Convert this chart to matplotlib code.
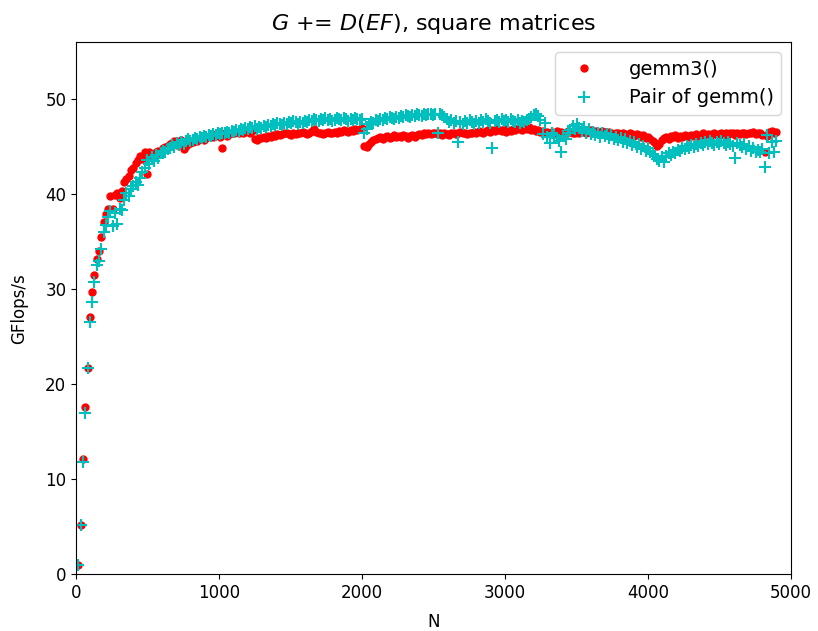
import numpy as np
import matplotlib
matplotlib.use("Agg")
import matplotlib.pyplot as plt

# matrix sizes N = 16, 32, ..., 4896
N = np.arange(16, 4897, 16)

# GFlops/s for gemm3()
gemm3 = [
    1.0, 5.2, 12.1, 17.6, 21.7, 27.1, 29.7, 31.5, 33.2, 34.0,
    35.5, 37.1, 37.9, 38.5, 39.8, 38.4, 39.9, 40.1, 39.6, 40.3,
    41.3, 41.6, 41.9, 42.6, 42.8, 43.3, 43.6, 44.0, 43.7, 44.5,
    42.1, 44.4, 44.0, 44.2, 44.5, 44.6, 44.3, 44.9, 45.0, 45.1,
    45.3, 45.4, 45.6, 45.2, 45.5, 45.7, 44.8, 45.1, 45.3, 45.4,
    45.5, 45.7, 45.6, 45.8, 46.0, 45.7, 45.9, 46.1, 46.2, 46.0,
    46.3, 46.2, 46.0, 44.9, 46.4, 46.1, 46.3, 46.5, 46.4, 46.6,
    46.5, 46.7, 46.4, 46.6, 46.8, 46.5, 46.7, 45.8, 45.7, 45.9,
    45.9, 46.0, 45.9, 46.1, 46.0, 46.2, 46.1, 46.3, 46.2, 46.3,
    46.4, 46.5, 46.3, 46.2, 46.4, 46.3, 46.5, 46.4, 46.6, 46.5,
    46.3, 46.5, 46.7, 46.9, 46.6, 46.4, 46.5, 46.3, 46.4, 46.6,
    46.5, 46.4, 46.6, 46.5, 46.7, 46.6, 46.8, 46.7, 46.6, 46.8,
    46.7, 46.9, 46.8, 46.9, 47.0, 45.1, 45.0,
    45.3, 45.5, 45.7, 45.8, 45.9, 46.0, 45.8, 46.0, 46.1, 45.9, 46.0, 46.2, 46.0,
    46.1, 46.0, 46.2, 46.1, 45.9, 46.1, 46.2, 46.0, 46.2, 46.3,
    46.2, 46.4, 46.3, 46.5, 46.3, 46.4, 46.5, 46.3, 46.4, 46.2,
    46.4, 46.3, 46.2, 46.4, 46.5, 46.3, 46.4, 46.6, 46.4, 46.5,
    46.3, 46.5, 46.4, 46.6, 46.5, 46.7, 46.6, 46.5, 46.7, 46.8,
    46.6, 46.8, 46.7, 46.9, 46.8, 46.7, 46.9, 46.6, 46.8, 46.7,
    46.9, 46.8, 47.0, 46.9, 46.8, 47.0, 46.9, 47.1, 46.8, 46.9,
    46.7, 46.8, 46.6, 46.7, 46.5, 46.6, 46.4, 46.6, 46.5, 46.7,
    46.5, 46.6, 46.4, 46.5, 46.7, 46.6, 46.4, 46.5, 46.6, 46.4,
    46.6, 46.7, 46.5, 46.6, 46.8, 46.5, 46.7, 46.6, 46.5, 46.7,
    46.6, 46.4, 46.6, 46.5, 46.3, 46.5, 46.4, 46.2, 46.4, 46.3,
    46.2, 46.4, 46.3, 46.1, 46.3, 46.2, 46.0, 46.2, 45.9, 46.0,
    45.8, 45.6, 45.4, 45.1, 45.3, 45.7, 45.9, 46.0, 45.8, 46.1,
    46.0, 46.2, 45.9, 46.1, 46.0, 46.2, 46.1, 46.0, 46.2, 46.1,
    46.3, 46.1, 46.2, 46.4, 46.2, 46.3, 46.1, 46.3, 46.4, 46.2,
    46.3, 46.5, 46.2, 46.4, 46.3, 46.5, 46.4, 46.2, 46.4, 46.3,
    46.5, 46.4, 46.3, 46.5, 46.4, 46.6, 46.3, 46.5, 46.4, 46.2,
    44.4, 46.1, 46.6, 46.7, 46.5, 46.6,
]

# GFlops/s for a pair of gemm() calls
pair = [
    1.0, 5.2, 11.8, 17.0, 21.7, 26.5, 28.7, 30.8, 32.6, 33.0,
    34.2, 36.0, 36.8, 37.6, 38.2, 36.7, 38.0, 36.9, 38.4, 38.3,
    39.4, 40.1, 39.8, 40.6, 40.9, 41.3, 41.0, 41.7, 42.3, 42.8,
    43.6, 43.2, 43.9, 43.5, 44.1, 43.8, 44.3, 44.6, 44.4, 44.8,
    44.9, 45.2, 45.0, 45.4, 45.2, 45.5, 45.3, 45.6, 45.8, 45.6,
    45.7, 45.9, 45.8, 46.0, 45.9, 46.1, 46.0, 46.2, 46.1, 46.3,
    46.2, 46.4, 46.3, 46.5, 46.4, 46.6, 46.5, 46.7, 46.6, 46.8,
    46.7, 46.9, 46.8, 47.0, 46.9, 47.1, 47.0, 47.2, 46.9, 47.1,
    47.0, 47.2, 47.1, 47.3, 47.2, 47.4, 47.3, 47.5, 47.4, 47.3,
    47.5, 47.4, 47.6, 47.5, 47.7, 47.6, 47.4, 47.6, 47.5, 47.7,
    47.6, 47.8, 47.7, 47.9, 47.8, 47.7, 47.9, 47.8, 48.0, 47.8,
    47.9, 47.7, 47.8, 48.0, 47.9, 47.8, 48.0, 47.9, 47.7, 47.9,
    47.8, 48.0, 47.9, 47.8, 47.9, 46.4, 46.9,
    47.4, 47.6, 47.5, 47.8, 47.7, 47.9, 47.8, 48.0, 47.9, 48.1, 48.0, 47.9, 48.1,
    48.0, 48.2, 48.1, 48.3, 48.2, 48.1, 48.3, 48.2, 48.4, 48.3,
    48.2, 48.4, 48.3, 48.5, 48.4, 48.3, 48.5, 46.5, 48.4, 48.3,
    48.1, 47.9, 47.6, 47.8, 47.5, 47.7, 45.5, 47.6, 47.4, 47.7,
    47.5, 47.8, 47.6, 47.4, 47.7, 47.5, 47.8, 47.6, 47.9, 47.7,
    47.5, 44.9, 47.7, 47.8, 47.6, 47.9, 47.7, 47.8, 47.6, 47.9,
    47.7, 47.6, 47.8, 47.5, 47.7, 47.6, 47.8, 47.9, 48.1, 48.3,
    48.4, 48.2, 47.8, 46.3, 47.5, 46.0, 45.4, 46.5, 46.2, 45.9,
    45.6, 44.4, 46.1, 45.8, 46.4, 46.8, 47.2, 46.9, 47.4, 47.0,
    46.7, 47.1, 46.5, 46.9, 46.3, 46.6, 46.2, 46.5, 46.0, 46.4,
    46.1, 46.3, 45.9, 46.2, 45.8, 46.0, 45.7, 45.9, 45.5, 45.8,
    45.4, 45.6, 45.2, 45.5, 45.0, 45.3, 44.8, 45.1, 44.6, 44.9,
    44.5, 44.2, 44.0, 43.7, 43.5, 43.9, 43.4, 44.0, 44.3, 44.1,
    44.5, 44.3, 44.7, 44.6, 44.9, 44.8, 45.1, 44.9, 45.2, 45.0,
    45.3, 45.1, 45.4, 45.2, 45.5, 45.3, 45.6, 45.4, 45.2, 45.5,
    45.3, 45.6, 45.4, 45.2, 45.5, 45.3, 45.1, 43.8, 45.4, 45.2,
    45.0, 45.3, 44.8, 45.1, 44.6, 44.9, 44.4, 44.7, 44.5, 44.8,
    42.9, 46.2, 44.3, 45.5, 44.4, 45.6,
]

fig = plt.figure(figsize=(8.18, 6.31), dpi=100)
ax = fig.add_axes([0.093, 0.090, 0.874, 0.843])

ax.plot(N, gemm3, 'ro', ms=5, label='gemm3()')
ax.plot(N, pair, 'c+', ms=9, mew=1.5, label='Pair of gemm()')

ax.set_xlim(0, 5000)
ax.set_ylim(0, 56)
ax.set_yticks([0, 10, 20, 30, 40, 50])
ax.tick_params(labelsize=12)
ax.set_xlabel('N', fontsize=12, labelpad=8)
ax.set_ylabel('GFlops/s', fontsize=12, labelpad=12)
ax.set_title(r'$G$ += $D(EF)$, square matrices', fontsize=16, pad=9)
ax.legend(loc='upper right', fontsize=14, handlelength=2.2, handletextpad=1.2)

fig.savefig('out.png', dpi=100)
